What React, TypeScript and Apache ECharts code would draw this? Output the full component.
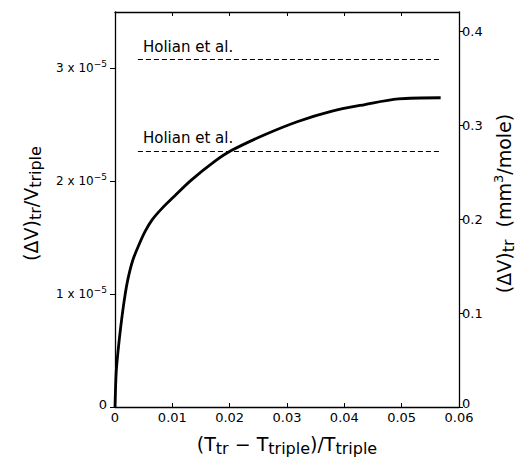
import React, { useEffect, useRef } from "react";
import * as echarts from "echarts";

// Reduced temperature (Ttr - Ttriple)/Ttriple
const reducedT = [
  0, 0.0002, 0.0005, 0.001, 0.0016, 0.0022, 0.0031, 0.0042, 0.0053, 0.0065,
  0.0082, 0.0104, 0.0133, 0.0175, 0.0202, 0.026, 0.0319, 0.0377, 0.0436,
  0.0494, 0.0568,
];
// (ΔV)tr / Vtriple in units of 1e-5
const volRatioE5 = [
  0, 0.3, 0.48, 0.71, 0.94, 1.12, 1.3, 1.44, 1.56, 1.66, 1.76, 1.87, 2.01,
  2.18, 2.27, 2.41, 2.53, 2.62, 2.68, 2.73, 2.74,
];
// Holian et al. reference levels (units of 1e-5)
const holianLevels = [3.08, 2.27];
const holianRange = [0.004, 0.0566];
const holianLabel = "Holian et al.";

const xTicks = [0, 0.01, 0.02, 0.03, 0.04, 0.05, 0.06];
const leftTicks = [0, 1, 2, 3];
const rightTicks = [0, 0.1, 0.2, 0.3, 0.4];

const FONT = "DejaVu Sans";
const INK = "#000";

export default function App() {
  const ref = useRef<HTMLDivElement>(null);
  useEffect(() => {
    if (!ref.current) return;
    const chart = echarts.init(ref.current, undefined, { renderer: "svg" });
    const axisLine = { show: true, onZero: false, lineStyle: { color: INK, width: 1.3 } };
    const nameRich = {
      a: { fontFamily: FONT, fontSize: 19, color: INK, lineHeight: 24 },
      s: { fontFamily: FONT, fontSize: 16, color: INK, lineHeight: 14, verticalAlign: "bottom" },
      p: { fontFamily: FONT, fontSize: 13, color: INK, lineHeight: 12, verticalAlign: "top" },
    };
    const option: any = {
      animation: false,
      backgroundColor: "#fff",
      grid: { left: 115, right: 59, top: 12, bottom: 50, containLabel: false, outerBoundsMode: "none" },
      xAxis: [
        {
          type: "value",
          position: "bottom",
          min: 0,
          max: 0.06,
          interval: 0.01,
          axisLine,
          axisTick: { show: true, inside: true, length: 4, lineStyle: { color: INK, width: 1 }, customValues: xTicks },
          splitLine: { show: false },
          axisLabel: {
            customValues: xTicks,
            margin: 4,
            fontFamily: FONT,
            fontSize: 13,
            color: INK,
            formatter: (v: number) => (v === 0 ? "0" : v.toFixed(2)),
          },
          name: "{a|(T}{s|tr}{a| − T}{s|triple}{a|)/T}{s|triple}",
          nameLocation: "middle",
          nameGap: 25,
          nameMoveOverlap: false,
          nameTextStyle: { rich: nameRich },
        },
        {
          type: "value",
          position: "top",
          min: 0,
          max: 0.06,
          interval: 0.01,
          axisLine,
          axisTick: { show: true, inside: true, length: 4, lineStyle: { color: INK, width: 1 }, customValues: xTicks },
          axisLabel: { show: false },
          splitLine: { show: false },
        },
      ],
      yAxis: [
        {
          type: "value",
          position: "left",
          min: 0,
          max: 3.5,
          axisLine,
          axisTick: { show: true, length: 5, lineStyle: { color: INK, width: 1 }, customValues: leftTicks },
          splitLine: { show: false },
          axisLabel: {
            customValues: leftTicks,
            margin: 8,
            formatter: (v: number) => (v === 0 ? "{z|0}" : `{n|${Math.round(v)} x 10}{s|−5}`),
            rich: {
              n: { fontFamily: FONT, fontSize: 12, color: INK, lineHeight: 18 },
              s: { fontFamily: FONT, fontSize: 9, color: INK, lineHeight: 10, verticalAlign: "top" },
              z: { fontFamily: FONT, fontSize: 13, color: INK, lineHeight: 16, padding: [0, 0, 6, 0] },
            },
          },
          name: "{a|(ΔV)}{s|tr}{a|/V}{s|triple}",
          nameLocation: "middle",
          nameRotate: 90,
          nameGap: 72,
          nameMoveOverlap: false,
          nameTextStyle: { rich: nameRich, padding: [0, 0, 0, 12] },
        },
        {
          type: "value",
          position: "right",
          min: 0,
          max: 0.421,
          axisLine,
          axisTick: { show: true, length: 4, lineStyle: { color: INK, width: 1 }, customValues: rightTicks },
          splitLine: { show: false },
          axisLabel: {
            customValues: rightTicks,
            margin: 3,
            formatter: (v: number) => (v === 0 ? "{z|0}" : `{n|${v.toFixed(1)}}`),
            rich: {
              n: { fontFamily: FONT, fontSize: 13, color: INK, lineHeight: 16 },
              z: { fontFamily: FONT, fontSize: 13, color: INK, lineHeight: 16, padding: [0, 0, 7, 0] },
            },
          },
          name: "{a|(ΔV)}{s|tr}{a|  (mm}{p|3}{a|/mole)}",
          nameLocation: "middle",
          nameRotate: 90,
          nameGap: 33,
          nameMoveOverlap: false,
          nameTextStyle: { rich: nameRich, padding: [0, 0, 0, 12] },
        },
      ],
      series: [
        {
          type: "line",
          xAxisIndex: 0,
          yAxisIndex: 0,
          data: reducedT.map((x, i) => [x, volRatioE5[i]]),
          showSymbol: false,
          symbol: "none",
          smooth: 0.3,
          lineStyle: { color: INK, width: 2.8 },
          silent: true,
          markLine: {
            silent: true,
            symbol: ["none", "none"],
            lineStyle: { color: INK, width: 1.1, type: [5, 3] },
            label: {
              show: true,
              position: "insideStartTop",
              distance: 5,
              formatter: holianLabel,
              fontFamily: FONT,
              fontSize: 15,
              color: INK,
            },
            data: holianLevels.map((lv) => [
              { coord: [holianRange[0], lv] },
              { coord: [holianRange[1], lv] },
            ]),
          },
        },
      ],
    };
    chart.setOption(option);
    return () => chart.dispose();
  }, []);
  return (
    <div
      ref={ref}
      style={{ position: "absolute", left: 0, top: 0, width: 518, height: 457, background: "#fff" }}
    />
  );
}
